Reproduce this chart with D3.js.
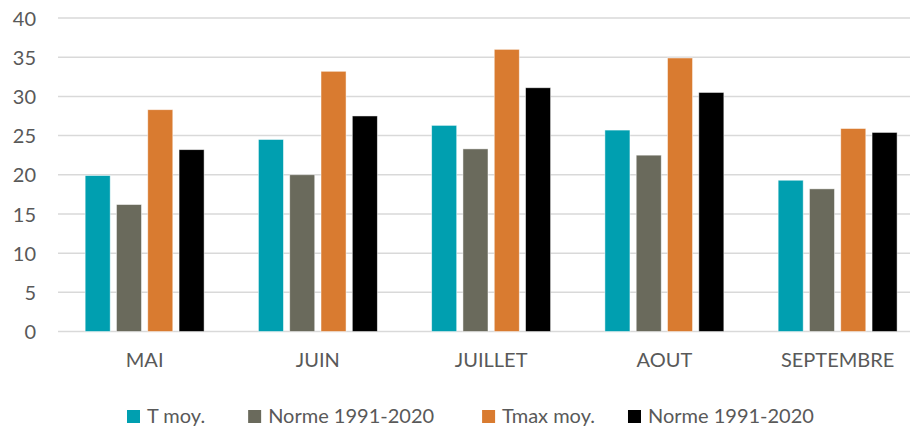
<!DOCTYPE html>
<html><head><meta charset="utf-8">
<script src="https://cdn.jsdelivr.net/npm/d3@7"></script>
<style>
html,body{margin:0;padding:0;background:#fff;}
text{font-family:Lato,"Open Sans",sans-serif;}
</style></head>
<body><svg id="c" width="911" height="427"></svg>
<script>
const categories = ["MAI","JUIN","JUILLET","AOUT","SEPTEMBRE"];
const seriesNames = ["T moy.","Norme 1991-2020","Tmax moy.","Norme 1991-2020"];
const tMoy = [19.9, 24.5, 26.3, 25.7, 19.3];
const normeMoy = [16.2, 20.0, 23.3, 22.5, 18.2];
const tMax = [28.3, 33.2, 36.0, 34.9, 25.9];
const normeMax = [23.2, 27.5, 31.1, 30.5, 25.4];
const yTicks = [0,5,10,15,20,25,30,35,40];
const colors = ["#009FB0","#6A6A5C","#D97B30","#000000"];

(function(){
const series = [tMoy, normeMoy, tMax, normeMax];
const svg = d3.select("#c");
const mLeft = 58, mRight = 924.25, gridRight = 910, mTop = 18, mBottom = 331.5;

const x0 = d3.scaleBand().domain(categories).range([mLeft, mRight]).paddingInner(0).paddingOuter(0);
const x1 = d3.scaleBand().domain(d3.range(4)).range([0, x0.bandwidth()]).paddingInner(0.2).paddingOuter(0.8675);
const y = d3.scaleLinear().domain([0,40]).range([mBottom, mTop]);

svg.append("g").selectAll("line").data(yTicks).join("line")
  .attr("x1", mLeft).attr("x2", gridRight)
  .attr("y1", d=>y(d)).attr("y2", d=>y(d))
  .attr("stroke", "#d9d9d9").attr("stroke-width", 1.5);

const yAxis = svg.append("g").attr("transform", `translate(${mLeft-22},0)`)
  .call(d3.axisLeft(y).tickValues(yTicks).tickSize(0).tickPadding(0));
yAxis.select(".domain").remove();
yAxis.selectAll("text").attr("font-size", 20).attr("fill", "#595959").attr("font-family","Lato").attr("dy","0.36em");

const groups = svg.append("g").selectAll("g").data(categories).join("g")
  .attr("transform", d=>`translate(${x0(d)},0)`);
groups.selectAll("rect").data((d,i)=>series.map((s,k)=>({k, v:s[i]}))).join("rect")
  .attr("x", d=>x1(d.k)).attr("width", x1.bandwidth())
  .attr("y", d=>y(d.v)).attr("height", d=>y(0)-y(d.v))
  .attr("fill", d=>colors[d.k])
  .attr("stroke", "rgba(255,255,255,0.6)").attr("stroke-width", 0.8);

const xAxis = svg.append("g").attr("transform", `translate(0,${mBottom+21})`)
  .call(d3.axisBottom(x0).tickSize(0).tickPadding(0));
xAxis.select(".domain").remove();
xAxis.selectAll("text").attr("font-size", 20).attr("fill", "#595959").attr("font-family","Lato").attr("dy","0.71em");

const leg = svg.append("g").attr("transform", "translate(127,0)");
const gaps = [43, 48, 33, 0];
let cx = 0;
seriesNames.forEach((name,k)=>{
  const g = leg.append("g").attr("transform", `translate(${cx},0)`);
  g.append("rect").attr("x",0).attr("y",410).attr("width",13).attr("height",13).attr("fill",colors[k]);
  const t = g.append("text").attr("x",20).attr("y",423).attr("font-size",20).attr("fill","#595959").text(name);
  cx += 20 + t.node().getComputedTextLength() + gaps[k];
});
})();
</script></body></html>
